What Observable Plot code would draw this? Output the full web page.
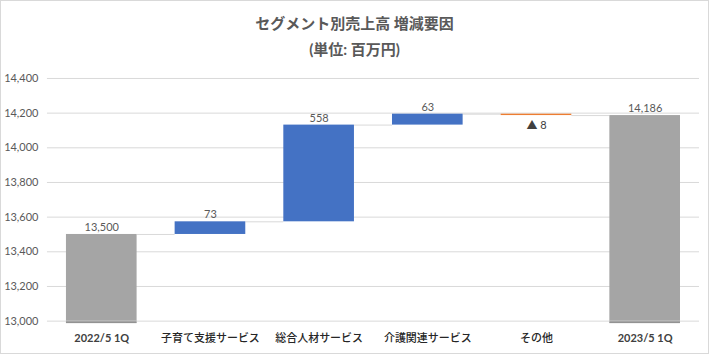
<!DOCTYPE html>
<html><head><meta charset="utf-8">
<script src="https://cdn.jsdelivr.net/npm/d3@7"></script>
<script src="https://cdn.jsdelivr.net/npm/@observablehq/plot@0.6"></script>
<style>
body{margin:0;background:#fff;}
#wrap{position:relative;width:709px;height:354px;box-sizing:border-box;border:1px solid #d9d9d9;font-family:Lato,"Noto Sans CJK JP",sans-serif;overflow:hidden;}
#t1{position:absolute;top:11px;left:0;width:100%;text-align:center;font-size:15px;font-weight:bold;color:#595959;}
#t2{position:absolute;top:37px;left:0;width:100%;text-align:center;font-size:15px;font-weight:bold;color:#595959;}
#chart{position:absolute;top:58px;left:-1px;}
</style></head>
<body><div id="wrap"><div id="t1">セグメント別売上高 増減要因</div><div id="t2">(単位: 百万円)</div><div id="chart"></div></div>
<script>
const categories = ["2022/5 1Q","子育て支援サービス","総合人材サービス","介護関連サービス","その他","2023/5 1Q"];
const values = [13500, 73, 558, 63, -8, 14186];
const kinds = ["total","up","up","up","down","total"];
const valueLabels = ["13,500","73","558","63","▲ 8","14,186"];
const yTicks = [13000,13200,13400,13600,13800,14000,14200,14400];

const colors = {total:"#a5a5a5", up:"#4472c4", down:"#ed7d31"};
const base = yTicks[0];
const half = 0.325;
let run = 0;
const rows = categories.map((c,i)=>{
  let y1, y2;
  if (kinds[i]==="total"){ y1 = base; y2 = values[i]; run = values[i]; }
  else { y1 = run; y2 = run + values[i]; run = y2; }
  return {i, c, y1, y2, kind:kinds[i], label:valueLabels[i], top:Math.max(y1,y2), bot:Math.min(y1,y2), end:run,
          xa:i-half, xb:i+half, color:colors[kinds[i]]};
});
const connectors = rows.slice(0,-1).map(r=>({x1:r.i+half, x2:r.i+1-half, y:r.end}));
const totals = rows.filter(d=>d.kind==="total");

const chart = Plot.plot({
  width:709, height:296,
  marginLeft:47, marginRight:9, marginTop:19, marginBottom:34,
  style:{fontFamily:'Lato,"Noto Sans CJK JP",sans-serif', fontSize:"11px", color:"#595959", background:"transparent"},
  x:{type:"linear", domain:[-0.5,5.5], axis:null},
  y:{domain:[13000,14400], axis:null},
  marks:[
    Plot.ruleY(yTicks,{stroke:"#d9d9d9", strokeWidth:1}),
    Plot.axisY({ticks:yTicks, tickSize:0, tickPadding:9, tickFormat:d=>d3.format(",")(d), fontSize:11, fill:"#595959"}),
    Plot.ruleY(connectors,{y:"y", x1:"x1", x2:"x2", stroke:"#d9d9d9", strokeWidth:1}),
    Plot.rect(rows,{x1:"xa", x2:"xb", y1:"y1", y2:"y2", fill:"color"}),
    Plot.rect(totals,{x1:"xa", x2:"xb", y1:"y1", y2:"y1", fill:"#a5a5a5", insetTop:0, insetBottom:-2}),
    Plot.ruleY(totals,{x1:"xa", x2:"xb", y:"y1", dy:1.5, stroke:"#8c8c8c", strokeWidth:1}),
    Plot.text(rows.filter(d=>d.kind!=="down"),{x:"i", y:"top", text:"label", dy:-7, fill:"#595959", fontSize:11}),
    Plot.text(rows.filter(d=>d.kind==="down"),{x:"i", y:"bot", text:"label", dy:10, fill:"#404040", fontSize:11}),
    Plot.text(totals,{x:"i", y:base, text:"c", dy:17, fill:"#404040", fontSize:11, fontWeight:"bold"}),
    Plot.text(rows.filter(d=>d.kind!=="total"),{x:"i", y:base, text:"c", dy:17, fill:"#262626", fontSize:11, fontWeight:500})
  ]
});
document.getElementById("chart").appendChild(chart);
</script></body></html>
